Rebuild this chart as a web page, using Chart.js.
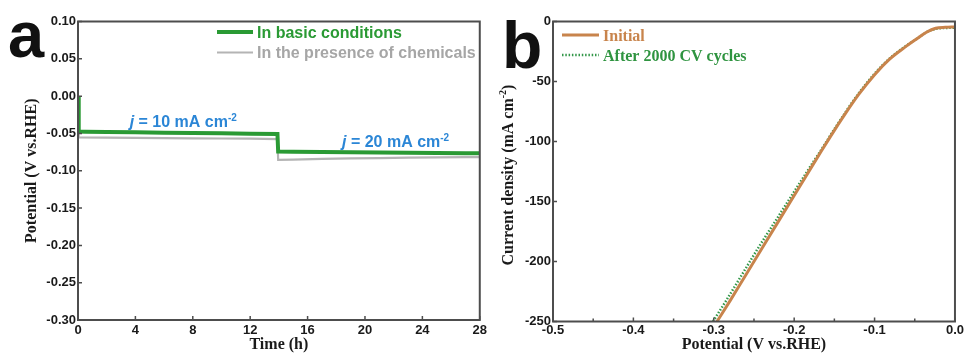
<!DOCTYPE html>
<html>
<head>
<meta charset="utf-8">
<script src="https://cdn.jsdelivr.net/npm/chart.js@4/dist/chart.umd.min.js"></script>
<style>
  html, body { margin: 0; padding: 0; background: #fff; }
  body { width: 965px; height: 353px; position: relative; overflow: hidden; }
  canvas { position: absolute; top: 0; }
  #stability { left: 0; }
  #polarization { left: 490px; }
</style>
</head>
<body>
<canvas id="stability" width="490" height="353"></canvas>
<canvas id="polarization" width="475" height="353"></canvas>
<script>
// ---- Panel a: chronopotentiometry at 10 and 20 mA cm-2 ----
const timeBasic = [0, 0.05, 0.5, 2, 4, 6, 8, 10, 12, 13.9, 13.95, 15, 17, 19, 21, 23, 25, 27, 28];
const potBasic  = [0.000, -0.0474, -0.0476, -0.048, -0.0485, -0.049, -0.0494, -0.0498, -0.0503, -0.0507,
                   -0.0743, -0.0745, -0.0748, -0.0752, -0.0755, -0.0758, -0.0761, -0.0764, -0.0765];
const timeChem  = [0, 0.05, 2, 4, 6, 8, 10, 12, 13.9, 13.95, 15, 17, 19, 21, 23, 25, 27, 28];
const potChem   = [-0.050, -0.0552, -0.0555, -0.056, -0.0562, -0.0565, -0.0568, -0.057, -0.0575,
                   -0.0855, -0.085, -0.084, -0.0835, -0.083, -0.0825, -0.082, -0.0818, -0.0818];
const timeTicks = [0, 4, 8, 12, 16, 20, 24, 28];
const potTicks  = [0.10, 0.05, 0.00, -0.05, -0.10, -0.15, -0.20, -0.25, -0.30];

// ---- Panel b: polarization curves before and after cycling ----
const vInitial = [-0.296, -0.280, -0.260, -0.240, -0.220, -0.200, -0.180, -0.166, -0.150, -0.137,
                  -0.120, -0.100, -0.082, -0.063, -0.047, -0.035, -0.024, -0.012, 0.000];
const jInitial = [-250, -233, -211, -189, -167, -145, -123, -107.7, -90.7, -77.4,
                  -61, -44.3, -31.8, -21.8, -14.2, -8.7, -5.6, -4.8, -4.5];
const vCycled  = [-0.301, -0.285, -0.265, -0.245, -0.224, -0.203, -0.182, -0.167, -0.151, -0.138,
                  -0.121, -0.101, -0.083, -0.064, -0.048, -0.036, -0.025, -0.012, 0.000];
const jCycled  = [-250, -233, -211, -189, -167, -145, -123, -107.7, -90.7, -77.4,
                  -61, -44.3, -31.8, -21.8, -14.6, -9.2, -6.3, -5.4, -5.2];
const vTicks      = [-0.5, -0.4, -0.3, -0.2, -0.1, 0.0];
const vMinorTicks = [-0.45, -0.35, -0.25, -0.15, -0.05];
const jTicks      = [0, -50, -100, -150, -200, -250];

// ---- styling ----
const SANS  = "'Liberation Sans', Arial, sans-serif";
const SERIF = "'Liberation Serif', 'Times New Roman', serif";
const GREEN = '#2a9a34';
const GREY  = '#b4b4b4';
const BROWN = '#c8844c';
const DOTGREEN = '#34984a';
const BLUE  = '#2b86d6';
const AXIS  = '#4d4d4d';
const TICKFONT = { family: SANS, size: 13, weight: 'bold' };
const TITLEFONT = { family: SERIF, size: 16, weight: 'bold', lineHeight: 1 };

const pts = (xs, ys) => xs.map((x, i) => ({ x, y: ys[i] }));
const fixedTicks = arr => scale => { scale.ticks = arr.map(v => ({ value: v })); };

// draws a row of text runs starting at (x, y) on a shared baseline
function drawRuns(ctx, x, y, runs) {
  let cx = x;
  runs.forEach(r => {
    ctx.font = r.font;
    ctx.fillText(r.text, cx, y + (r.dy || 0));
    cx += ctx.measureText(r.text).width;
  });
  return cx - x;
}
function runsWidth(ctx, runs) {
  let w = 0;
  runs.forEach(r => { ctx.font = r.font; w += ctx.measureText(r.text).width; });
  return w;
}

// box frame and inward tick marks
const framePlugin = {
  id: 'frame',
  afterDatasetsDraw(chart, args, opts) {
    const { ctx, chartArea: a, scales } = chart;
    ctx.save();
    ctx.strokeStyle = AXIS;
    ctx.lineWidth = 1.5;
    ctx.beginPath();
    scales.x.ticks.forEach(t => {
      const px = scales.x.getPixelForValue(t.value);
      ctx.moveTo(px, a.bottom); ctx.lineTo(px, a.bottom - 4);
    });
    (opts.minorX || []).forEach(v => {
      const px = scales.x.getPixelForValue(v);
      ctx.moveTo(px, a.bottom); ctx.lineTo(px, a.bottom - 3);
    });
    scales.y.ticks.forEach(t => {
      const py = scales.y.getPixelForValue(t.value);
      ctx.moveTo(a.left, py); ctx.lineTo(a.left + 4, py);
    });
    ctx.stroke();
    ctx.lineWidth = 2;
    ctx.strokeRect(a.left, a.top, a.right - a.left, a.bottom - a.top);
    ctx.restore();
  }
};

// panel a: legend, current-density labels, panel letter
const annotA = [
  { t: 3.6,  v: -0.0412, value: '10' },
  { t: 18.4, v: -0.0680, value: '20' }
];
const panelAPlugin = {
  id: 'panelA',
  afterDraw(chart) {
    const { ctx, scales } = chart;
    ctx.save();
    ctx.textBaseline = 'alphabetic';
    ctx.textAlign = 'left';
    // legend
    const ds = chart.data.datasets;
    const rows = [{ y: 32, base: 37.7 }, { y: 52.5, base: 58 }];
    ds.forEach((d, i) => {
      ctx.strokeStyle = d.borderColor;
      ctx.lineWidth = d.borderWidth;
      ctx.beginPath();
      ctx.moveTo(217, rows[i].y); ctx.lineTo(253, rows[i].y);
      ctx.stroke();
      ctx.fillStyle = i === 0 ? GREEN : '#a6a6a6';
      ctx.font = `bold 16px ${SANS}`;
      ctx.fillText(d.label, 257, rows[i].base);
    });
    // current density labels
    ctx.fillStyle = BLUE;
    annotA.forEach(n => {
      const x = scales.x.getPixelForValue(n.t);
      const y = scales.y.getPixelForValue(n.v);
      drawRuns(ctx, x, y, [
        { text: 'j', font: `italic bold 16px ${SANS}` },
        { text: ` = ${n.value} mA cm`, font: `bold 16px ${SANS}` },
        { text: '-2', font: `bold 10px ${SANS}`, dy: -6 }
      ]);
    });
    // panel letter
    ctx.fillStyle = '#111';
    ctx.font = `bold 65px ${SANS}`;
    ctx.fillText('a', 8, 57);
    ctx.restore();
  }
};

// panel b: legend, y-axis title with superscript, panel letter
const panelBPlugin = {
  id: 'panelB',
  afterDraw(chart) {
    const { ctx } = chart;
    ctx.save();
    ctx.textBaseline = 'alphabetic';
    ctx.textAlign = 'left';
    const ds = chart.data.datasets;
    const rows = [{ y: 35, base: 40.5 }, { y: 55, base: 61 }];
    const textCol = [BROWN, '#2f9440'];
    ds.forEach((d, i) => {
      ctx.strokeStyle = d.borderColor;
      ctx.lineWidth = d.borderWidth;
      ctx.setLineDash(d.borderDash || []);
      ctx.beginPath();
      ctx.moveTo(72, rows[i].y); ctx.lineTo(109, rows[i].y);
      ctx.stroke();
      ctx.setLineDash([]);
      ctx.fillStyle = textCol[i];
      ctx.font = `bold 16px ${SERIF}`;
      ctx.fillText(d.label, 113, rows[i].base);
    });
    // y-axis title
    const runs = [
      { text: 'Current density (mA cm', font: `bold 16px ${SERIF}` },
      { text: '-2', font: `bold 10px ${SERIF}`, dy: -7 },
      { text: ')', font: `bold 16px ${SERIF}` }
    ];
    const w = runsWidth(ctx, runs);
    ctx.translate(23, 175);
    ctx.rotate(-Math.PI / 2);
    ctx.fillStyle = '#1a1a1a';
    drawRuns(ctx, -w / 2, 0, runs);
    ctx.setTransform(1, 0, 0, 1, 0, 0);
    // panel letter
    ctx.fillStyle = '#111';
    ctx.font = `bold 66px ${SANS}`;
    ctx.fillText('b', 12, 68);
    ctx.restore();
  }
};

Chart.defaults.font.family = SANS;
Chart.defaults.color = '#1a1a1a';

new Chart(document.getElementById('stability'), {
  type: 'scatter',
  data: {
    datasets: [
      { label: 'In basic conditions', data: pts(timeBasic, potBasic), borderColor: GREEN,
        backgroundColor: GREEN, borderWidth: 4, showLine: true, pointRadius: 0, tension: 0 },
      { label: 'In the presence of chemicals', data: pts(timeChem, potChem), borderColor: GREY,
        backgroundColor: GREY, borderWidth: 2.2, showLine: true, pointRadius: 0, tension: 0 }
    ]
  },
  options: {
    responsive: false, animation: false, devicePixelRatio: 1,
    layout: { padding: { left: 0, right: 8, top: 21.5, bottom: 0 } },
    plugins: { legend: { display: false }, tooltip: { enabled: false } },
    scales: {
      x: {
        type: 'linear', min: 0, max: 28,
        afterBuildTicks: fixedTicks(timeTicks),
        afterFit: s => { s.height = 33; },
        grid: { display: false, drawTicks: false }, border: { display: false },
        ticks: { padding: 3, font: TICKFONT, color: '#1a1a1a', maxRotation: 0, autoSkip: false,
                 callback: v => String(v) },
        title: { display: true, text: 'Time (h)', font: TITLEFONT, color: '#1a1a1a', padding: 0 }
      },
      y: {
        type: 'linear', min: -0.30, max: 0.10,
        afterBuildTicks: fixedTicks(potTicks),
        afterFit: s => { s.width = 78; },
        grid: { display: false, drawTicks: false }, border: { display: false },
        ticks: { padding: 2, font: TICKFONT, color: '#1a1a1a', autoSkip: false,
                 callback: v => v.toFixed(2) },
        title: { display: true, text: 'Potential (V vs.RHE)', font: TITLEFONT, color: '#1a1a1a',
                 padding: { top: 24, bottom: 0 } }
      }
    }
  },
  plugins: [framePlugin, panelAPlugin]
});

new Chart(document.getElementById('polarization'), {
  type: 'scatter',
  data: {
    datasets: [
      { label: 'Initial', data: pts(vInitial, jInitial), borderColor: BROWN, backgroundColor: BROWN,
        borderWidth: 3, showLine: true, pointRadius: 0, cubicInterpolationMode: 'monotone' },
      { label: 'After 2000 CV cycles', data: pts(vCycled, jCycled), borderColor: DOTGREEN,
        backgroundColor: DOTGREEN, borderWidth: 2.5, borderDash: [1.5, 1.8], showLine: true,
        pointRadius: 0, cubicInterpolationMode: 'monotone' }
    ]
  },
  options: {
    responsive: false, animation: false, devicePixelRatio: 1,
    layout: { padding: { left: 0, right: 7, top: 21.5, bottom: 0 } },
    plugins: { legend: { display: false }, tooltip: { enabled: false }, frame: { minorX: vMinorTicks } },
    scales: {
      x: {
        type: 'linear', min: -0.5, max: 0,
        afterBuildTicks: fixedTicks(vTicks),
        afterFit: s => { s.height = 31.5; },
        grid: { display: false, drawTicks: false }, border: { display: false },
        ticks: { padding: 1, font: TICKFONT, color: '#1a1a1a', maxRotation: 0, autoSkip: false,
                 callback: v => v.toFixed(1) },
        title: { display: true, text: 'Potential (V vs.RHE)', font: TITLEFONT, color: '#1a1a1a', padding: 0 }
      },
      y: {
        type: 'linear', min: -250, max: 0,
        afterBuildTicks: fixedTicks(jTicks),
        afterFit: s => { s.width = 63; },
        grid: { display: false, drawTicks: false }, border: { display: false },
        ticks: { padding: 2, font: TICKFONT, color: '#1a1a1a', autoSkip: false,
                 callback: v => String(v) }
      }
    }
  },
  plugins: [framePlugin, panelBPlugin]
});
</script>
</body>
</html>
